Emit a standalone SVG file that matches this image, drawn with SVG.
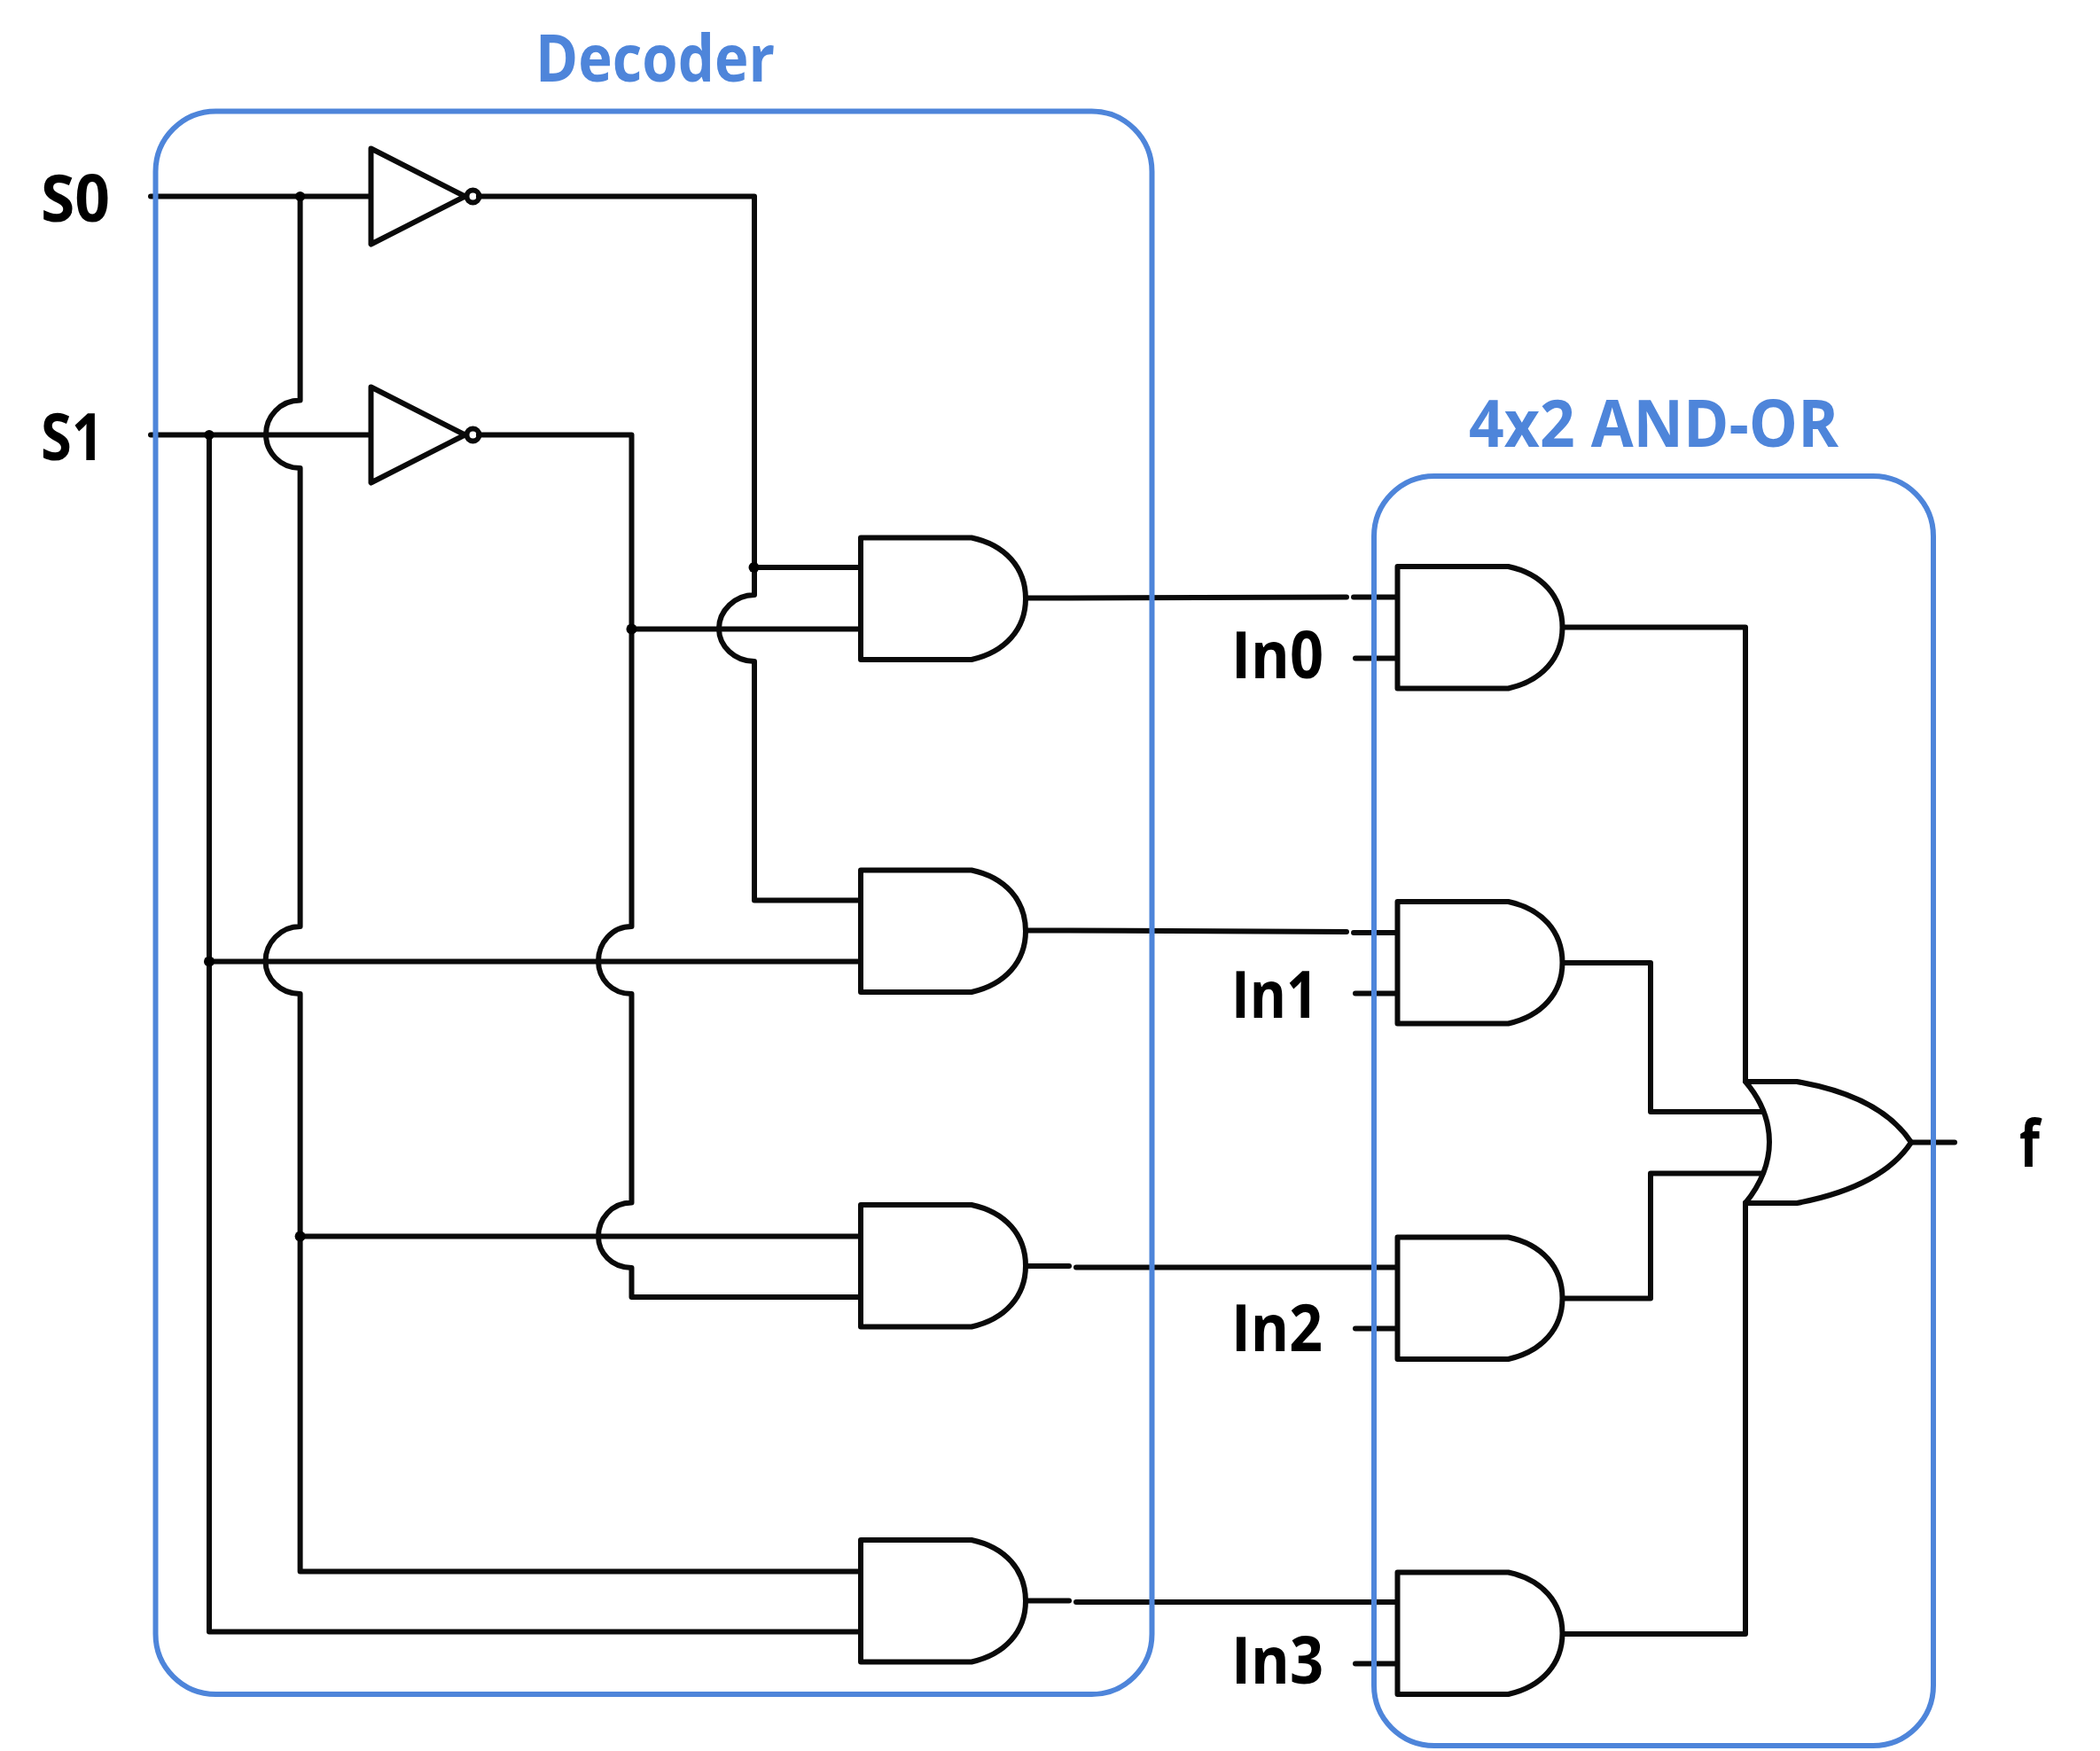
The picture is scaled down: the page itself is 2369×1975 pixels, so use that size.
<svg xmlns="http://www.w3.org/2000/svg" width="2369" height="1975" viewBox="0 0 2369 1975">
<style>
.w{fill:none;stroke:#0a0a0a;stroke-width:6;stroke-linecap:round;stroke-linejoin:round}
.g{fill:none;stroke:#0a0a0a;stroke-width:6;stroke-linejoin:round;stroke-linecap:round}
.d{fill:#000}
.box{fill:none;stroke:#4e85da;stroke-width:6}
.t{font-family:"Open Sans","Noto Sans",sans-serif;font-size:73px;font-weight:700;fill:#000}
.h{font-family:"Open Sans","Noto Sans",sans-serif;font-size:73px;font-weight:700;fill:#4e85da}
</style>
<defs>
<path id="and" class="g" d="M125 0H0V137.5H125C163 129 186 103 186 68.75C186 34 163 8 125 0Z"/>
<g id="not"><path class="g" d="M0 0L106 54L0 108Z"/><circle class="g" cx="115" cy="54" r="7"/></g>
</defs>
<rect width="2369" height="1975" fill="#fff"/>
<g id="connectors">
<path class="w" d="M170 221.5H418"/>
<path class="w" d="M170 490.5H418"/>
<path class="w" d="M338.6 221.5V451.5C316 451.5 300 470 300 490C300 510 316 528 338.6 528V1045C316 1045 299.5 1064 299.5 1084C299.5 1104 316 1121 338.6 1121V1772.5H970"/>
<path class="w" d="M236 490.5V1840.5H970"/>
<path class="w" d="M540 221.5H851V671C829 671 811 689 811 709C811 729 829 746 851 746V1015.5H970"/>
<path class="w" d="M851 640H970"/>
<path class="w" d="M540 490.5H712.5V1045C690 1045 675 1064 675 1084C675 1104 690 1121 712.5 1121V1356.5C690 1356.5 675 1375 675 1394.5C675 1413 690 1430 712.5 1430V1463H970"/>
<path class="w" d="M712.5 709.5H970"/>
<path class="w" d="M236 1084.5H970"/>
<path class="w" d="M338.6 1394.5H970"/>
<path class="w" d="M1158 674.5H1207L1519 673.5"/>
<path class="w" d="M1527 673.5H1576"/>
<path class="w" d="M1158 1049.5H1207L1519 1051"/>
<path class="w" d="M1527 1052H1576"/>
<path class="w" d="M1158 1428H1206"/>
<path class="w" d="M1214 1429.5H1576"/>
<path class="w" d="M1158 1805.5H1206"/>
<path class="w" d="M1214 1807H1576"/>
<path class="w" d="M1529 742.5H1576"/>
<path class="w" d="M1529 1120.5H1576"/>
<path class="w" d="M1529 1498.5H1576"/>
<path class="w" d="M1529 1876.5H1576"/>
<path class="w" d="M1763 707.5H1969V1219.5"/>
<path class="w" d="M1763 1086H1862V1254H1987"/>
<path class="w" d="M1763 1464.5H1862V1323.5H1987"/>
<path class="w" d="M1763 1843H1969V1356.5"/>
<path class="w" d="M2157 1288.5H2205"/>
<circle class="d" cx="338.6" cy="221.5" r="5.5"/>
<circle class="d" cx="236" cy="490.5" r="5.5"/>
<circle class="d" cx="850.5" cy="640" r="6"/>
<circle class="d" cx="712.5" cy="709.5" r="6"/>
<circle class="d" cx="236" cy="1084.5" r="6"/>
<circle class="d" cx="338.6" cy="1394.5" r="6"/>
</g>
<g id="inv0"><use href="#not" x="418.5" y="167.5"/></g>
<g id="inv1"><use href="#not" x="418.5" y="436.5"/></g>
<g id="dec0"><use href="#and" x="971" y="606.5"/></g>
<g id="dec1"><use href="#and" x="971" y="981.5"/></g>
<g id="dec2"><use href="#and" x="971" y="1359"/></g>
<g id="dec3"><use href="#and" x="971" y="1737"/></g>
<g id="and0"><use href="#and" x="1576.5" y="639"/></g>
<g id="and1"><use href="#and" x="1576.5" y="1017"/></g>
<g id="and2"><use href="#and" x="1576.5" y="1395.5"/></g>
<g id="and3"><use href="#and" x="1576.5" y="1773.5"/></g>
<g id="or0"><path class="g" d="M1969 1220H2027C2085 1230 2132 1252 2156 1288.5C2132 1325 2085 1346 2027 1357H1969C1986 1336 1996 1314 1996 1288C1996 1263 1986 1240 1969 1220Z"/></g>
<g id="decoder-box"><rect class="box" x="175.5" y="125.5" width="1124" height="1785.5" rx="68" ry="68"/><text class="h" x="604" y="92" textLength="270" lengthAdjust="spacingAndGlyphs">Decoder</text></g>
<g id="andor-box"><rect class="box" x="1550" y="537" width="631" height="1432" rx="68" ry="68"/><text class="h" x="1657" y="504" textLength="417" lengthAdjust="spacingAndGlyphs">4x2 AND-OR</text></g>
<g id="labels">
<text class="t" x="46" y="250" textLength="78" lengthAdjust="spacingAndGlyphs">S0</text>
<text class="t" x="46" y="519" textLength="71" lengthAdjust="spacingAndGlyphs">S1</text>
<text class="t" x="1389" y="765" textLength="104" lengthAdjust="spacingAndGlyphs">In0</text>
<text class="t" x="1389" y="1148" textLength="98" lengthAdjust="spacingAndGlyphs">In1</text>
<text class="t" x="1389" y="1524" textLength="103" lengthAdjust="spacingAndGlyphs">In2</text>
<text class="t" x="1389" y="1899" textLength="104" lengthAdjust="spacingAndGlyphs">In3</text>
<text class="t" x="2278" y="1316" textLength="23" lengthAdjust="spacingAndGlyphs">f</text>
</g>
</svg>
